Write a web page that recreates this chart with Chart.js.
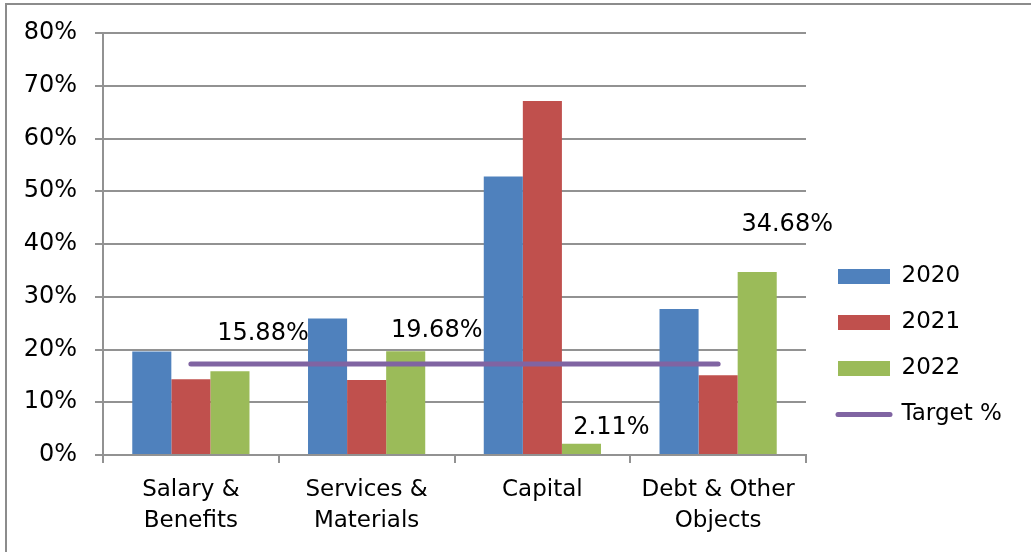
<!DOCTYPE html>
<html>
<head>
<meta charset="utf-8">
<script src="https://cdn.jsdelivr.net/npm/chart.js@4"></script>
<style>
  html, body { margin: 0; padding: 0; background: #fff; }
  #wrap { position: relative; width: 1031px; height: 552px; overflow: hidden; }
  #frame { position: absolute; left: 5px; top: 3px; width: 1100px; height: 700px;
           border-left: 2px solid #8c8c8c; border-top: 2px solid #8c8c8c; pointer-events: none; }
  canvas { position: absolute; left: 0; top: 0; }
</style>
</head>
<body>
<div id="wrap">
  <canvas id="c" width="1031" height="552"></canvas>
  <div id="frame"></div>
</div>
<script>
// ---- data ----
const categories = [['Salary &', 'Benefits'], ['Services &', 'Materials'], ['Capital'], ['Debt & Other', 'Objects']];
const seriesNames = ['2020', '2021', '2022'];
const values2020 = [19.6, 25.9, 52.8, 27.7];
const values2021 = [14.35, 14.2, 67.1, 15.1];
const values2022 = [15.88, 19.68, 2.11, 34.68];
const targetName = 'Target %';
const targetValues = [17.25, 17.25, 17.25, 17.25];
const yTicks = [0, 10, 20, 30, 40, 50, 60, 70, 80];

// ---- styles ----
const FONT = 'DejaVu Sans';
const FS = 23;
const FS_NUM = 24;
const colors = ['#4F81BD', '#C0504D', '#9BBB59'];
const targetColor = '#8064A2';
const gridColor = '#929292';
// label offsets (px) relative to the top-centre of each 2022 bar
const labelOffsets = [[33, -37], [31, -20], [30, -16], [30, -47]];

const labelPlugin = {
  id: 'barLabels',
  afterDatasetsDraw(chart) {
    const meta = chart.getDatasetMeta(2);
    const ctx = chart.ctx;
    ctx.save();
    ctx.font = FS_NUM + 'px "' + FONT + '"';
    ctx.fillStyle = '#000';
    ctx.textAlign = 'center';
    ctx.textBaseline = 'middle';
    meta.data.forEach((el, i) => {
      const v = values2022[i];
      ctx.fillText(v.toFixed(2) + '%', el.x + labelOffsets[i][0], el.y + labelOffsets[i][1]);
    });
    ctx.restore();
  }
};

const legendPlace = {
  id: 'legendPlace',
  beforeLayout(chart) {
    const lg = chart.legend;
    if (lg && !lg._patched) {
      const f = lg.fit;
      lg.fit = function () { f.call(this); this.width = 225; };
      lg._patched = true;
    }
  },
  afterLayout(chart) {
    const lg = chart.legend;
    if (!lg) return;
    const w = lg.width, h = lg.height;
    lg.left = 815; lg.right = lg.left + w;
    lg.top = 242; lg.bottom = lg.top + h;
  }
};

const yTickSet = new Set(yTicks);

new Chart(document.getElementById('c'), {
  type: 'bar',
  data: {
    labels: categories,
    datasets: [
      { label: seriesNames[0], data: values2020, backgroundColor: colors[0], order: 1 },
      { label: seriesNames[1], data: values2021, backgroundColor: colors[1], order: 1 },
      { label: seriesNames[2], data: values2022, backgroundColor: colors[2], order: 1 },
      { type: 'line', label: targetName, data: targetValues, borderColor: targetColor,
        backgroundColor: targetColor, borderWidth: 5, borderCapStyle: 'round',
        pointRadius: 0, pointHoverRadius: 0, fill: false, order: 0 }
    ]
  },
  options: {
    responsive: false,
    animation: false,
    devicePixelRatio: 1,
    layout: { padding: { top: 33, left: 0, right: 0, bottom: 0 } },
    datasets: { bar: { categoryPercentage: 0.667, barPercentage: 1.0, borderWidth: 0 } },
    plugins: {
      tooltip: { enabled: false },
      legend: {
        position: 'right',
        align: 'start',
        labels: {
          usePointStyle: true,
          pointStyleWidth: 52,
          boxHeight: 15,
          padding: 23,
          color: '#000',
          font: { family: FONT, size: FS },
          generateLabels(chart) {
            return chart.data.datasets.map((ds, i) => {
              const isLine = ds.type === 'line';
              return {
                text: ds.label,
                fillStyle: isLine ? targetColor : ds.backgroundColor,
                strokeStyle: isLine ? targetColor : ds.backgroundColor,
                lineWidth: isLine ? 5 : 0,
                lineCap: isLine ? 'round' : 'butt',
                pointStyle: isLine ? 'line' : 'rect',
                fontColor: '#000',
                hidden: false,
                datasetIndex: i
              };
            });
          }
        }
      }
    },
    scales: {
      x: {
        grid: { offset: true, drawOnChartArea: false, drawTicks: true, tickLength: 8, color: gridColor, lineWidth: 2 },
        border: { color: gridColor, width: 2 },
        ticks: { color: '#000', padding: 12, font: { family: FONT, size: FS, lineHeight: 31 / FS }, maxRotation: 0, autoSkip: false },
        afterFit(scale) { scale.height = 97; }
      },
      y: {
        min: 0, max: 80,
        grid: { color: gridColor, lineWidth: 2, tickLength: 8 },
        border: { color: gridColor, width: 2 },
        ticks: {
          stepSize: 10, color: '#000', padding: 18,
          font: { family: FONT, size: FS_NUM },
          callback: (v) => yTickSet.has(v) ? v + '%' : ''
        },
        afterFit(scale) { scale.width = 103; }
      }
    }
  },
  plugins: [labelPlugin, legendPlace]
});
</script>
</body>
</html>
